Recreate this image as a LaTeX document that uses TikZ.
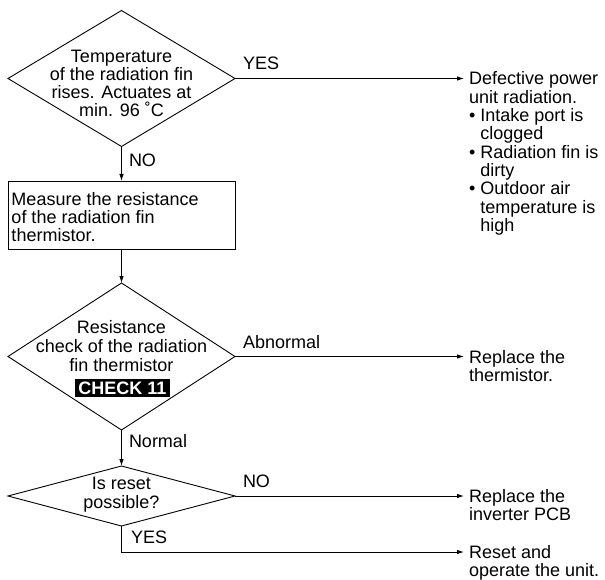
\documentclass[tikz,border=0pt]{standalone}
\usepackage{fontspec}
\setmainfont{Liberation Sans}
\usetikzlibrary{shapes.geometric,arrows.meta,calc}
\begin{document}
\begin{tikzpicture}[x=1pt,y=-1pt,
  every node/.style={inner sep=0pt, outer sep=0pt, font=\fontsize{18pt}{18.3pt}\selectfont},
  decision/.style={diamond, draw, line width=0.9pt, minimum width=227pt},
  procbox/.style={draw, line width=0.9pt, minimum width=227pt, minimum height=68pt},
  lbl/.style={anchor=base west},
  result/.style={anchor=north west, inner xsep=5pt, align=left},
  arr/.style={line width=0.9pt, -{Latex[length=7pt,width=4.5pt]}},
  ln/.style={line width=0.9pt}]
\useasboundingbox (0,0) rectangle (605,580);

% decision 1
\node[decision, minimum height=136pt] (d1) at (121.5,78.5) {};
\node[anchor=north, align=center, font=\fontsize{18pt}{17.8pt}\selectfont] (t1) at (121.5,50.4)
  {Temperature\\of the radiation fin\\rises. Actuates at\\min. 96 ˚C};

% process box
\node[procbox] (b1) at (121.5,215) {};
\node[anchor=north west, align=left, font=\fontsize{18pt}{18pt}\selectfont] (tb) at (11.5,192)
  {Measure the resistance\\of the radiation fin\\thermistor.};

% decision 2
\node[decision, minimum height=147pt] (d2) at (121.5,356.5) {};
\node[anchor=north, align=center, font=\fontsize{18pt}{19pt}\selectfont] (t2) at (121.5,320.4)
  {Resistance\\check of the radiation\\fin thermistor};
\node[fill=black, text=white, font=\fontsize{18pt}{18pt}\selectfont\bfseries,
      inner xsep=3pt, inner ysep=2.6pt, text height=12.9pt, text depth=0pt] (c11) at (122.5,388) {CHECK 11};

% decision 3
\node[decision, minimum height=60pt] (d3) at (121.5,496) {};
\node[anchor=north, align=center, font=\fontsize{18pt}{19pt}\selectfont] (t3) at (121.5,477.1)
  {Is reset\\possible?};

% results
\node[result] (r1) at (464,71.9)
  {Defective power\\unit radiation.\\\textbullet\ Intake port is\\\hphantom{\textbullet\ }clogged\\\textbullet\ Radiation fin is\\\hphantom{\textbullet\ }dirty\\\textbullet\ Outdoor air\\\hphantom{\textbullet\ }temperature is\\\hphantom{\textbullet\ }high};
\node[result] (r2) at (464,350.1) {Replace the\\thermistor.};
\node[result] (r3) at (464,489.6) {Replace the\\inverter PCB};
\node[result] (r4) at (464,545.6) {Reset and\\operate the unit.};

% labels
\node[lbl] (l1) at (243,70) {YES};
\node[lbl] (l2) at (129,166.7) {NO};
\node[lbl] (l3) at (243,348.3) {Abnormal};
\node[lbl] (l4) at (129,447) {Normal};
\node[lbl] (l5) at (243,487) {NO};
\node[lbl] (l6) at (131,543) {YES};

% connectors
\coordinate (k) at (121.5,552);
\draw[arr] (d1.south) -- (b1.north);
\draw[arr] (b1.south) -- (d2.north);
\draw[arr] (d2.south) -- (d3.north);
\draw[arr] (d1.east) -- (d1.east -| r1.west);
\draw[arr] (d2.east) -- (d2.east -| r2.west);
\draw[arr] (d3.east) -- (d3.east -| r3.west);
\draw[arr] (d3.south) -- (k) -- (k -| r4.west);
\end{tikzpicture}
\end{document}
